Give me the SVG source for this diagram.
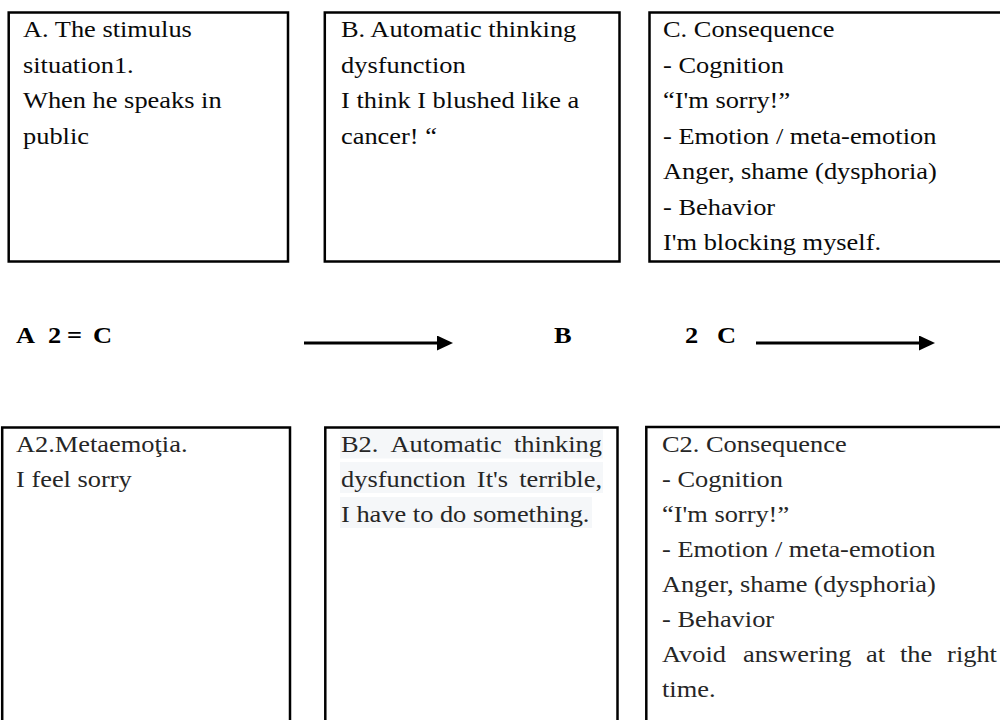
<svg xmlns="http://www.w3.org/2000/svg" width="1000" height="720" viewBox="0 0 1000 720">
  <defs>
    <style>
      .box { fill: #ffffff; stroke: #000000; stroke-width: 2.5; }
      .t { font-family: "Liberation Serif", "Times New Roman", serif; font-size: 24px; fill: #0a0a0a; }
      .t2 { font-family: "Liberation Serif", "Times New Roman", serif; font-size: 24px; fill: #262626; }
      .b { font-family: "Liberation Serif", "Times New Roman", serif; font-size: 24px; font-weight: bold; fill: #000000; }
      .hl { fill: #f5f7f9; }
      .arrow { stroke: #000000; stroke-width: 3; fill: none; }
    </style>
    <marker id="head" markerUnits="userSpaceOnUse" markerWidth="16" markerHeight="15" refX="0" refY="7.5" orient="auto">
      <path d="M0,0 L16,7.5 L0,15 z" fill="#000000"/>
    </marker>
  </defs>
  <rect width="1000" height="720" fill="#ffffff"/>

  <g id="node-A">
    <rect class="box" x="8.7" y="12.5" width="279.3" height="249"/>
    <g transform="translate(23 0) scale(1.1 1)">
      <text class="t" x="0" y="37.5">A. The stimulus</text>
      <text class="t" x="0" y="73">situation1.</text>
      <text class="t" x="0" y="108.5">When he speaks in</text>
      <text class="t" x="0" y="144">public</text>
    </g>
  </g>

  <g id="node-B">
    <rect class="box" x="324.8" y="12.5" width="294.7" height="249"/>
    <g transform="translate(341 0) scale(1.1 1)">
      <text class="t" x="0" y="37.5">B. Automatic thinking</text>
      <text class="t" x="0" y="73">dysfunction</text>
      <text class="t" x="0" y="108.5">I think I blushed like a</text>
      <text class="t" x="0" y="144">cancer! “</text>
    </g>
  </g>

  <g id="node-C">
    <rect class="box" x="649.5" y="12.5" width="400" height="249"/>
    <g transform="translate(663 0) scale(1.1 1)">
      <text class="t" x="0" y="37.5">C. Consequence</text>
      <text class="t" x="0" y="73">- Cognition</text>
      <text class="t" x="0" y="108.5">“I'm sorry!”</text>
      <text class="t" x="0" y="144">- Emotion / meta-emotion</text>
      <text class="t" x="0" y="179.5">Anger, shame (dysphoria)</text>
      <text class="t" x="0" y="215">- Behavior</text>
      <text class="t" x="0" y="250.5">I'm blocking myself.</text>
    </g>
  </g>

  <g id="middle-labels">
    <text class="b" transform="translate(16 343) scale(1.1 1)">A</text>
    <text class="b" transform="translate(48 343) scale(1.1 1)">2</text>
    <text class="b" transform="translate(67 343) scale(1.1 1)">=</text>
    <text class="b" transform="translate(93 343) scale(1.1 1)">C</text>
    <text class="b" transform="translate(554 343) scale(1.1 1)">B</text>
    <text class="b" transform="translate(685 343) scale(1.1 1)">2</text>
    <text class="b" transform="translate(717 343) scale(1.1 1)">C</text>
  </g>

  <g id="connectors">
    <line class="arrow" x1="304" y1="343" x2="437" y2="343" marker-end="url(#head)"/>
    <line class="arrow" x1="756" y1="343" x2="919" y2="343" marker-end="url(#head)"/>
  </g>

  <g id="node-A2">
    <rect class="box" x="2.2" y="427.5" width="287.8" height="320"/>
    <g transform="translate(16 0) scale(1.1 1)">
      <text class="t2" x="0" y="452.5">A2.Metaemoţia.</text>
      <text class="t2" x="0" y="487.5">I feel sorry</text>
    </g>
  </g>

  <g id="node-B2">
    <rect class="box" x="325.3" y="427.5" width="292.2" height="320"/>
    <rect class="hl" x="340" y="429.5" width="263" height="29"/>
    <rect class="hl" x="340" y="462" width="263" height="31"/>
    <rect class="hl" x="340" y="497" width="252" height="31"/>
    <g transform="translate(341 0) scale(1.1 1)">
      <text class="t2" x="0" y="452.5">B2.</text>
      <text class="t2" x="44.9" y="452.5">Automatic</text>
      <text class="t2" x="237.3" y="452.5" text-anchor="end">thinking</text>
      <text class="t2" x="0" y="487.5">dysfunction</text>
      <text class="t2" x="123.5" y="487.5">It's</text>
      <text class="t2" x="237.3" y="487.5" text-anchor="end">terrible,</text>
      <text class="t2" x="0" y="522.5">I have to do something.</text>
    </g>
  </g>

  <g id="node-C2">
    <rect class="box" x="646.3" y="427" width="400" height="320"/>
    <g transform="translate(662 0) scale(1.1 1)">
      <text class="t2" x="0" y="452.5">C2. Consequence</text>
      <text class="t2" x="0" y="487.5">- Cognition</text>
      <text class="t2" x="0" y="522.5">“I'm sorry!”</text>
      <text class="t2" x="0" y="557.5">- Emotion / meta-emotion</text>
      <text class="t2" x="0" y="592.5">Anger, shame (dysphoria)</text>
      <text class="t2" x="0" y="627.5">- Behavior</text>
      <text class="t2" x="0" y="662.5">Avoid</text>
      <text class="t2" x="73.6" y="662.5">answering</text>
      <text class="t2" x="185.5" y="662.5">at</text>
      <text class="t2" x="216.4" y="662.5">the</text>
      <text class="t2" x="304.5" y="662.5" text-anchor="end">right</text>
      <text class="t2" x="0" y="697.5">time.</text>
    </g>
  </g>
</svg>
